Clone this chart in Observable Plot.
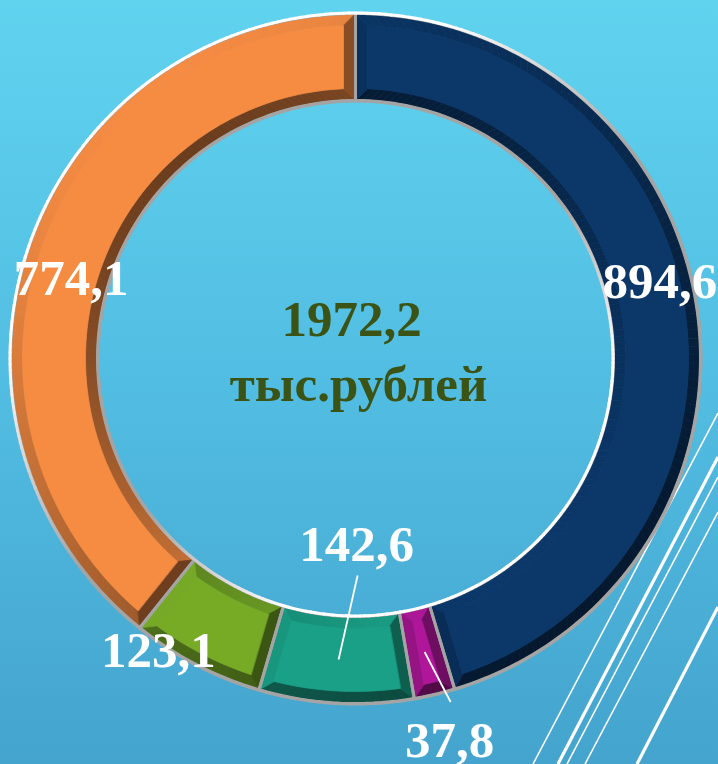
<!DOCTYPE html>
<html><head><meta charset="utf-8">
<script src="https://cdn.jsdelivr.net/npm/d3@7"></script>
<script src="https://cdn.jsdelivr.net/npm/@observablehq/plot@0.6"></script>
<style>
html,body{margin:0;padding:0;}
#wrap{position:relative;width:718px;height:764px;overflow:hidden;background:linear-gradient(180deg,#60d3ef 0%,#52bde2 50%,#44a4cd 100%);}
#decor{position:absolute;left:0;top:0;}
#chart{position:absolute;left:0;top:0;}
#chart svg{display:block;}
</style></head><body>
<div id="wrap">
<svg id="decor" width="718" height="764">
 <g stroke="#ffffff" fill="none">
  <line x1="718" y1="413" x2="533" y2="764" stroke-width="1.6"/>
  <line x1="718" y1="457" x2="558" y2="764" stroke-width="3.2"/>
  <line x1="718" y1="477" x2="567" y2="764" stroke-width="1.6"/>
  <line x1="718" y1="512" x2="585" y2="764" stroke-width="1.6"/>
  <line x1="718" y1="607" x2="637" y2="764" stroke-width="3.2"/>
 </g>
</svg>
<div id="chart"></div>
</div>
<script>
// ---- data ----
const segments = ["s1", "s2", "s3", "s4", "s5"];
const values = [894.6, 37.8, 142.6, 123.1, 774.1];
const palette = ["#0b3769", "#b0169a", "#1aa086", "#77ab26", "#f68b42"];
const unitLabel = "тыс.рублей";

// ---- layout ----
const W = 718, H = 764, CX = 355, CY = 358, RO = 345, RI = 258, B = 12;
const LIGHT = [-0.6, -0.8];
// label offsets from ring centroid (px) and leader ends relative to label
const labelLayout = [
  {dx: 6, dy: -33, leader: null},
  {dx: 25, dy: 89, leader: -39},
  {dx: 18, dy: -115, leader: 31},
  {dx: -58, dy: 25, leader: null},
  {dx: 0, dy: 20, leader: null}
];

const data = segments.map((s, i) => ({name: s, value: values[i], color: palette[i], i}));
const fmt = v => v.toFixed(1).replace(".", ",");
const total = d3.sum(values);

const P = (r, a) => [CX + r * Math.sin(a), CY - r * Math.cos(a)];
const dot = n => n[0] * LIGHT[0] + n[1] * LIGHT[1];
const shade = (c, d) => {
  const f = 0.72 + 0.28 * d;
  return f <= 1 ? d3.interpolateRgb("#000", c)(f) : d3.interpolateRgb(c, "#fff")(f - 1);
};

const arcs = d3.pie().sort(null).value(d => d.value).startAngle(0).endAngle(2 * Math.PI)(data);

const polys = [];
let pid = 0;
function addPoly(pts, fill) { const id = pid++; pts.forEach(p => polys.push({id, x: p[0], y: p[1], fill})); }
const outlines = [];

arcs.forEach(a => {
  const c = a.data.color, a0 = a.startAngle, a1 = a.endAngle, span = a1 - a0;
  const dO = B / (RO - B), dI = B / (RI + B);
  const N = Math.max(3, Math.ceil(span / 0.025));
  for (let k = 0; k < N; k++) {
    const u0 = k / N, u1 = (k + 1) / N, um = (u0 + u1) / 2;
    const o0 = a0 + u0 * span, o1 = a0 + u1 * span, am = a0 + um * span;
    const f0 = a0 + dO + u0 * (span - 2 * dO), f1 = a0 + dO + u1 * (span - 2 * dO);
    const g0 = a0 + dI + u0 * (span - 2 * dI), g1 = a0 + dI + u1 * (span - 2 * dI);
    addPoly([P(RO, o0), P(RO, o1), P(RO - B, f1), P(RO - B, f0)], shade(c, dot([Math.sin(am), -Math.cos(am)])));
    addPoly([P(RI, o0), P(RI, o1), P(RI + B, g1), P(RI + B, g0)], shade(c, dot([-Math.sin(am), Math.cos(am)])));
  }
  addPoly([P(RO, a0), P(RI, a0), P(RI + B, a0 + dI), P(RO - B, a0 + dO)], shade(c, dot([-Math.cos(a0), -Math.sin(a0)])));
  addPoly([P(RO, a1), P(RI, a1), P(RI + B, a1 - dI), P(RO - B, a1 - dO)], shade(c, dot([Math.cos(a1), Math.sin(a1)])));
  const face = [];
  for (let k = 0; k <= N; k++) face.push(P(RO - B, a0 + dO + k / N * (span - 2 * dO)));
  for (let k = N; k >= 0; k--) face.push(P(RI + B, a0 + dI + k / N * (span - 2 * dI)));
  addPoly(face, c);
  const oid = a.data.name;
  for (let k = 0; k <= N; k++) { const p = P(RO, a0 + k / N * span); outlines.push({id: oid, x: p[0], y: p[1]}); }
  for (let k = N; k >= 0; k--) { const p = P(RI, a0 + k / N * span); outlines.push({id: oid, x: p[0], y: p[1]}); }
});

// edge highlights (white where the edge faces the light)
const edges = [];
const M = 360;
for (let k = 0; k < M; k++) {
  const t0 = k / M * 2 * Math.PI, t1 = (k + 1) / M * 2 * Math.PI, tm = (t0 + t1) / 2;
  const dOut = dot([Math.sin(tm), -Math.cos(tm)]);
  const dIn = dot([-Math.sin(tm), Math.cos(tm)]);
  const col = d => d3.interpolateRgb("#a4a4a4", "#ffffff")(Math.max(0, Math.min(1, d * 1.6)));
  const po0 = P(RO + 0.5, t0), po1 = P(RO + 0.5, t1), pi0 = P(RI - 0.5, t0), pi1 = P(RI - 0.5, t1);
  edges.push({x1: po0[0], y1: po0[1], x2: po1[0], y2: po1[1], c: col(dOut)});
  edges.push({x1: pi0[0], y1: pi0[1], x2: pi1[0], y2: pi1[1], c: col(dIn)});
}

const RM = (RO + RI) / 2;
const labels = arcs.map(a => {
  const am = (a.startAngle + a.endAngle) / 2;
  const cen = P(RM, am);
  const L = labelLayout[a.data.i];
  return {text: fmt(a.data.value), cx: cen[0], cy: cen[1], x: cen[0] + L.dx, y: cen[1] + L.dy, leader: L.leader};
});
const leaders = labels.filter(d => d.leader !== null)
  .map(d => ({x1: d.cx, y1: d.cy, x2: d.x + 1, y2: d.y + d.leader}));

const serif = "'Liberation Serif', 'Times New Roman', serif";

const chart = Plot.plot({
  width: W, height: H, margin: 0,
  x: {domain: [0, W], range: [0, W], axis: null},
  y: {domain: [0, H], range: [0, H], axis: null},
  color: {type: "identity"},
  style: {background: "transparent", overflow: "visible"},
  marks: [
    Plot.line(polys, {x: "x", y: "y", z: "id", fill: "fill", stroke: "fill", strokeWidth: 0.7, curve: "linear-closed"}),
    Plot.line(outlines, {x: "x", y: "y", z: "id", fill: "none", stroke: "#a4a4a4", strokeWidth: 3, curve: "linear-closed"}),
    Plot.link(edges, {x1: "x1", y1: "y1", x2: "x2", y2: "y2", stroke: "c", strokeWidth: 3, strokeLinecap: "round"}),
    Plot.link(leaders, {x1: "x1", y1: "y1", x2: "x2", y2: "y2", stroke: "#ffffff", strokeWidth: 1.8}),
    Plot.text(labels, {x: "x", y: "y", text: "text", fill: "#ffffff", fontSize: 51, fontWeight: "bold", fontFamily: serif, textAnchor: "middle"}),
    Plot.text([fmt(total)], {x: () => CX - 4, y: () => CY - 39, text: d => d, fill: "#3b5314", fontSize: 51, fontWeight: "bold", fontFamily: serif, textAnchor: "middle"}),
    Plot.text([unitLabel], {x: () => CX + 3, y: () => CY + 26, text: d => d, fill: "#3b5314", fontSize: 51, fontWeight: "bold", fontFamily: serif, textAnchor: "middle"})
  ]
});
document.getElementById("chart").appendChild(chart);
</script>
</body></html>
